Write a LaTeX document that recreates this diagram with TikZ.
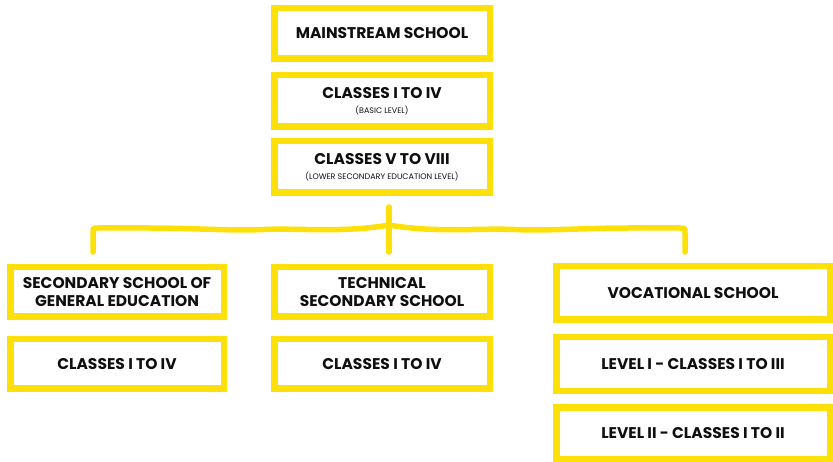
\documentclass[tikz,border=0pt]{standalone}
\usepackage{fontspec}
\setmainfont{Poppins}
\usetikzlibrary{calc}

\definecolor{schoolyellow}{RGB}{253,224,8}
\definecolor{ink}{RGB}{15,15,15}

\tikzset{
  box/.style={draw=schoolyellow, line width=6.5pt, fill=white, inner sep=0pt,
    align=center, text=ink, font=\fontsize{15.5}{17.5}\selectfont\bfseries},
  brace/.style={draw=schoolyellow, line width=5.5pt, line cap=round, line join=round},
}
\newcommand{\subline}[1]{{\fontsize{8}{9}\selectfont\mdseries #1}}

\begin{document}
\begin{tikzpicture}[x=1pt, y=-1pt]
  \useasboundingbox (0,0) rectangle (833,462);

  % main stream column
  \node[box, minimum width=215.5pt, minimum height=50.5pt] (main)  at (382,33.5) {MAINSTREAM SCHOOL};
  \node[box, minimum width=215.5pt, minimum height=51.5pt] (basic) at (382,101)  {CLASSES I TO IV\\[-3pt]\subline{(BASIC LEVEL)}};
  \node[box, minimum width=215.5pt, minimum height=51.5pt] (lower) at (382,167)  {CLASSES V TO VIII\\[-3pt]\subline{(LOWER SECONDARY EDUCATION LEVEL)}};

  % the brace splitting into three schools
  \draw[brace] (389,207) -- (389,252);
  \foreach \s in {1,-1} {
    \draw[brace, shift={(389,0)}, xscale=\s]
      (-296,252) -- (-296,233) .. controls (-296,228) .. (-291,228)
      -- (-240,228) .. controls (-195,228) and (-160,231) .. (-125,229.5)
      .. controls (-90,228) and (-45,233) .. (0,225);
  }

  % secondary school of general education
  \node[box, minimum width=213.5pt, minimum height=49.5pt] (general)  at (117,292) {SECONDARY SCHOOL OF\\GENERAL EDUCATION};
  \node[box, minimum width=213.5pt, minimum height=49.5pt] (generalc) at (117,364) {CLASSES I TO IV};

  % technical secondary school
  \node[box, minimum width=215.5pt, minimum height=49.5pt] (tech)  at (382,292) {TECHNICAL\\SECONDARY SCHOOL};
  \node[box, minimum width=215.5pt, minimum height=49.5pt] (techc) at (382,364) {CLASSES I TO IV};

  % vocational school
  \node[box, minimum width=273.5pt, minimum height=53.5pt] (voc)  at (693,293) {VOCATIONAL SCHOOL};
  \node[box, minimum width=273.5pt, minimum height=53.5pt] (lvl1) at (693,364) {LEVEL I - CLASSES I TO III};
  \node[box, minimum width=273.5pt, minimum height=51.5pt] (lvl2) at (693,433) {LEVEL II - CLASSES I TO II};
\end{tikzpicture}
\end{document}
